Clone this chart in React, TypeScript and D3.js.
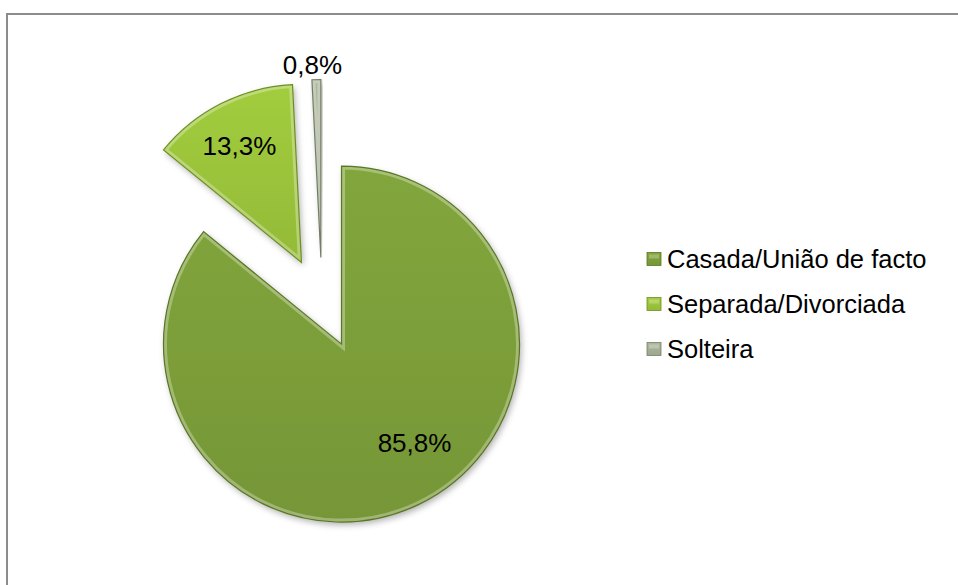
import React from "react";
import * as d3 from "d3";

const categories = ["Casada/União de facto", "Separada/Divorciada", "Solteira"];
const values = [85.8, 13.3, 0.8];
const labels = ["85,8%", "13,3%", "0,8%"];
const colors = ["#7b9d39", "#9ac23a", "#a3ae94"];
const darkColors = ["#5a7524", "#6d8f22", "#747e66"];

const W = 958;
const H = 585;
const R = 178;
const explode = 45.5;
const cx = 322;
const cy = 303;
// label placement relative to each exploded slice apex: [angle(deg clockwise from top), radius]
const labelPolar: [number, number][] = [
  [143.6, 123],
  [332, 132],
  [357.5, 193],
];

export default function App() {
  const pie = d3.pie<number>().sort(null).startAngle(0).endAngle(2 * Math.PI)(values);
  const arc = d3.arc<d3.PieArcDatum<number>>().innerRadius(0).outerRadius(R);
  const legendX = 647;
  const legendY0 = 259;
  const legendStep = 45;

  return (
    <div style={{ position: "fixed", left: 0, top: 0, width: W, height: H, background: "#fff" }}>
      <svg width={W} height={H} style={{ display: "block" }} fontFamily="'Liberation Sans', Arial, sans-serif">
        <defs>
          <filter id="shadow" x="-20%" y="-20%" width="140%" height="140%">
            <feDropShadow dx="2" dy="3" stdDeviation="3" floodColor="#000" floodOpacity="0.3" />
          </filter>
          {colors.map((c, i) => (
            <linearGradient key={i} id={`g${i}`} x1="0" y1="0" x2="0" y2="1">
              <stop offset="0" stopColor={d3.color(c)!.brighter(0.15).formatHex()} />
              <stop offset="1" stopColor={d3.color(c)!.darker(0.12).formatHex()} />
            </linearGradient>
          ))}
          {pie.map((d, i) => (
            <clipPath key={i} id={`clip${i}`}>
              <path d={arc(d) || ""} />
            </clipPath>
          ))}
        </defs>
        <rect x={7} y={14} width={W + 10} height={H + 10} fill="#fff" stroke="#8c8c8c" strokeWidth={2} />
        {pie.map((d, i) => {
          const mid = (d.startAngle + d.endAngle) / 2;
          const ox = cx + explode * Math.sin(mid);
          const oy = cy - explode * Math.cos(mid);
          const p = arc(d) || "";
          return (
            <g key={i} transform={`translate(${ox},${oy})`}>
              <path d={p} fill={`url(#g${i})`} filter="url(#shadow)" />
              <g clipPath={`url(#clip${i})`}>
                <path d={p} fill="none" stroke="#ffffff" strokeOpacity={0.3} strokeWidth={7} />
              </g>
              <path d={p} fill="none" stroke={darkColors[i]} strokeWidth={1.2} />
            </g>
          );
        })}
        {pie.map((d, i) => {
          const mid = (d.startAngle + d.endAngle) / 2;
          const ox = cx + explode * Math.sin(mid);
          const oy = cy - explode * Math.cos(mid);
          const [adeg, lr] = labelPolar[i];
          const a = (adeg * Math.PI) / 180;
          const lx = ox + lr * Math.sin(a);
          const ly = oy - lr * Math.cos(a);
          return (
            <text key={i} x={lx} y={ly} textAnchor="middle" dominantBaseline="central" fontSize={26} fill="#000">
              {labels[i]}
            </text>
          );
        })}
        {categories.map((c, i) => {
          const y = legendY0 + i * legendStep;
          return (
            <g key={c}>
              <rect x={legendX} y={y - 6.5} width={14} height={13} fill={`url(#g${i})`} stroke={darkColors[i]} strokeWidth={0.8} />
              <rect x={legendX + 2} y={y - 4.5} width={10} height={4} fill="#fff" opacity={0.25} />
              <text x={legendX + 20} y={y} dominantBaseline="central" fontSize={25.5} fill="#000">
                {c}
              </text>
            </g>
          );
        })}
      </svg>
    </div>
  );
}
